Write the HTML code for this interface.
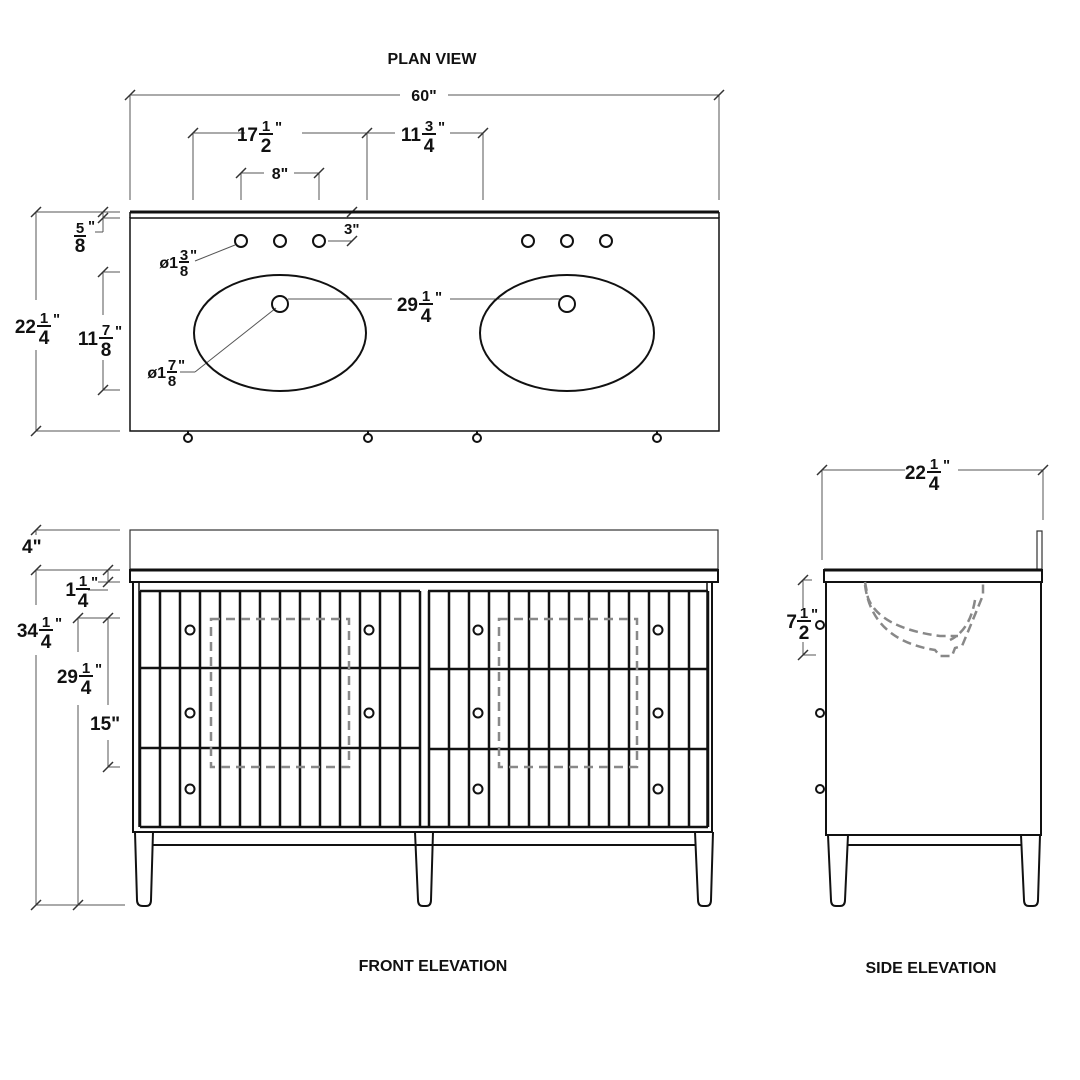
<!DOCTYPE html>
<html><head><meta charset="utf-8"><style>
html,body{margin:0;padding:0;background:#fff}
svg{display:block}
text{font-family:"Liberation Sans",sans-serif;font-weight:bold;fill:#111}
.t{font-size:16px}
.w{font-size:19px}
.f{font-size:15px}
.d{stroke:#555;stroke-width:1;fill:none}
.k{stroke:#111;stroke-width:2;fill:none}
.s{stroke:#111;stroke-width:2.5}
.h{stroke:#888;stroke-width:2.5;fill:none;stroke-dasharray:9,6}
</style></head><body>
<svg width="1080" height="1080" viewBox="0 0 1080 1080" xmlns="http://www.w3.org/2000/svg">
<defs>
<g id="tk"><line x1="-5" y1="5" x2="5" y2="-5" stroke="#333" stroke-width="1.5"/></g>
</defs>

<!-- titles -->
<text class="t" x="432" y="64" text-anchor="middle">PLAN VIEW</text>
<text class="t" x="433" y="971" text-anchor="middle">FRONT ELEVATION</text>
<text class="t" x="931" y="973" text-anchor="middle">SIDE ELEVATION</text>

<!-- ===== PLAN VIEW ===== -->
<g class="d">
<line x1="130" y1="95" x2="400" y2="95"/><line x1="448" y1="95" x2="719" y2="95"/>
<line x1="130" y1="95" x2="130" y2="200"/><line x1="719" y1="95" x2="719" y2="200"/>
<line x1="193" y1="133" x2="245" y2="133"/><line x1="302" y1="133" x2="395" y2="133"/><line x1="450" y1="133" x2="483" y2="133"/>
<line x1="193" y1="133" x2="193" y2="200"/><line x1="367" y1="133" x2="367" y2="200"/><line x1="483" y1="133" x2="483" y2="200"/>
<line x1="241" y1="173" x2="264" y2="173"/><line x1="294" y1="173" x2="319" y2="173"/>
<line x1="241" y1="173" x2="241" y2="200"/><line x1="319" y1="173" x2="319" y2="200"/>
<line x1="36" y1="212" x2="36" y2="300"/><line x1="36" y1="350" x2="36" y2="431"/>
<line x1="36" y1="212" x2="120" y2="212"/><line x1="36" y1="431" x2="120" y2="431"/>
<line x1="103" y1="212" x2="103" y2="232"/><line x1="95" y1="232" x2="103" y2="232"/>
<line x1="103" y1="218" x2="120" y2="218"/>
<line x1="103" y1="272" x2="103" y2="315"/><line x1="103" y1="360" x2="103" y2="390"/>
<line x1="103" y1="272" x2="120" y2="272"/><line x1="103" y1="390" x2="120" y2="390"/>
<line x1="328" y1="241" x2="352" y2="241"/>
<line x1="195" y1="261" x2="235" y2="245"/>
<line x1="180" y1="372" x2="195" y2="372"/><line x1="195" y1="372" x2="276" y2="308"/>
<line x1="288" y1="299" x2="392" y2="299"/><line x1="450" y1="299" x2="562" y2="299"/>
</g>
<use href="#tk" x="130" y="95"/><use href="#tk" x="719" y="95"/>
<use href="#tk" x="193" y="133"/><use href="#tk" x="367" y="133"/><use href="#tk" x="483" y="133"/>
<use href="#tk" x="241" y="173"/><use href="#tk" x="319" y="173"/>
<use href="#tk" x="36" y="212"/><use href="#tk" x="36" y="431"/>
<use href="#tk" x="103" y="212"/><use href="#tk" x="103" y="218"/>
<use href="#tk" x="103" y="272"/><use href="#tk" x="103" y="390"/>
<use href="#tk" x="352" y="241"/><use href="#tk" x="352" y="212"/>

<line x1="130" y1="212" x2="719" y2="212" stroke="#111" stroke-width="3"/>
<rect x="130" y="218" width="589" height="213" fill="none" stroke="#111" stroke-width="1.5"/>
<line x1="130" y1="212" x2="130" y2="218" stroke="#111" stroke-width="1.5"/>
<line x1="719" y1="212" x2="719" y2="218" stroke="#111" stroke-width="1.5"/>
<g class="k">
<ellipse cx="280" cy="333" rx="86" ry="58"/><ellipse cx="567" cy="333" rx="87" ry="58"/>
<circle cx="241" cy="241" r="6"/><circle cx="280" cy="241" r="6"/><circle cx="319" cy="241" r="6"/>
<circle cx="528" cy="241" r="6"/><circle cx="567" cy="241" r="6"/><circle cx="606" cy="241" r="6"/>
<circle cx="280" cy="304" r="8"/><circle cx="567" cy="304" r="8"/>
<circle cx="188" cy="438" r="4"/><circle cx="368" cy="438" r="4"/><circle cx="477" cy="438" r="4"/><circle cx="657" cy="438" r="4"/>
<line x1="188" y1="431" x2="188" y2="434"/><line x1="368" y1="431" x2="368" y2="434"/><line x1="477" y1="431" x2="477" y2="434"/><line x1="657" y1="431" x2="657" y2="434"/>
</g>

<!-- plan labels -->
<text class="t" x="424" y="101" text-anchor="middle">60"</text>
<text class="t" x="280" y="179" text-anchor="middle">8"</text>
<text class="f" x="344" y="234">3"</text>
<g transform="translate(258,141)"><text class="w" x="0" y="0" text-anchor="end">17</text><text class="f" x="8" y="-10" text-anchor="middle">1</text><line x1="1" y1="-7" x2="15" y2="-7" stroke="#111" stroke-width="2"/><text class="w" x="8" y="11" text-anchor="middle">2</text><text class="f" x="17" y="-9">"</text></g>
<g transform="translate(421,141)"><text class="w" x="0" y="0" text-anchor="end">11</text><text class="f" x="8" y="-10" text-anchor="middle">3</text><line x1="1" y1="-7" x2="15" y2="-7" stroke="#111" stroke-width="2"/><text class="w" x="8" y="11" text-anchor="middle">4</text><text class="f" x="17" y="-9">"</text></g>
<g transform="translate(36,333)"><text class="w" x="0" y="0" text-anchor="end">22</text><text class="f" x="8" y="-10" text-anchor="middle">1</text><line x1="1" y1="-7" x2="15" y2="-7" stroke="#111" stroke-width="2"/><text class="w" x="8" y="11" text-anchor="middle">4</text><text class="f" x="17" y="-9">"</text></g>
<g transform="translate(98,345)"><text class="w" x="0" y="0" text-anchor="end">11</text><text class="f" x="8" y="-10" text-anchor="middle">7</text><line x1="1" y1="-7" x2="15" y2="-7" stroke="#111" stroke-width="2"/><text class="w" x="8" y="11" text-anchor="middle">8</text><text class="f" x="17" y="-9">"</text></g>
<g transform="translate(418,311)"><text class="w" x="0" y="0" text-anchor="end">29</text><text class="f" x="8" y="-10" text-anchor="middle">1</text><line x1="1" y1="-7" x2="15" y2="-7" stroke="#111" stroke-width="2"/><text class="w" x="8" y="11" text-anchor="middle">4</text><text class="f" x="17" y="-9">"</text></g>
<g transform="translate(80,233)"><text class="f" x="0" y="0" text-anchor="middle">5</text><line x1="-6" y1="3" x2="6" y2="3" stroke="#111" stroke-width="2"/><text class="w" x="0" y="19" text-anchor="middle">8</text><text class="f" x="8" y="-2">"</text></g>
<g transform="translate(178,268)"><text class="t" x="0" y="0" text-anchor="end">ø1</text><text class="f" x="6" y="-8" text-anchor="middle">3</text><line x1="1" y1="-6" x2="11" y2="-6" stroke="#111" stroke-width="2"/><text class="f" x="6" y="8" text-anchor="middle">8</text><text class="f" x="12" y="-8">"</text></g>
<g transform="translate(166,378)"><text class="t" x="0" y="0" text-anchor="end">ø1</text><text class="f" x="6" y="-8" text-anchor="middle">7</text><line x1="1" y1="-6" x2="11" y2="-6" stroke="#111" stroke-width="2"/><text class="f" x="6" y="8" text-anchor="middle">8</text><text class="f" x="12" y="-8">"</text></g>

<!-- ===== FRONT ELEVATION ===== -->
<g class="d">
<line x1="36" y1="530" x2="120" y2="530"/><line x1="36" y1="570" x2="120" y2="570"/>
<line x1="36" y1="530" x2="36" y2="535"/>
<line x1="36" y1="570" x2="36" y2="605"/><line x1="36" y1="655" x2="36" y2="905"/>
<line x1="36" y1="905" x2="125" y2="905"/>
<line x1="108" y1="570" x2="108" y2="582"/><line x1="98" y1="582" x2="120" y2="582"/><line x1="88" y1="590" x2="108" y2="590"/>
<line x1="78" y1="618" x2="120" y2="618"/>
<line x1="78" y1="618" x2="78" y2="652"/><line x1="78" y1="705" x2="78" y2="905"/>
<line x1="108" y1="618" x2="108" y2="705"/><line x1="108" y1="740" x2="108" y2="767"/>
<line x1="108" y1="767" x2="120" y2="767"/>
</g>
<use href="#tk" x="36" y="530"/><use href="#tk" x="36" y="570"/><use href="#tk" x="36" y="905"/>
<use href="#tk" x="108" y="570"/><use href="#tk" x="108" y="582"/>
<use href="#tk" x="78" y="618"/><use href="#tk" x="78" y="905"/>
<use href="#tk" x="108" y="618"/><use href="#tk" x="108" y="767"/>

<rect x="130" y="530" width="588" height="40" fill="none" stroke="#333" stroke-width="1.2"/>
<rect x="130" y="570" width="588" height="12" fill="none" stroke="#111" stroke-width="2"/>
<line x1="130" y1="570" x2="718" y2="570" stroke="#111" stroke-width="3"/>
<rect x="133" y="582" width="579" height="250" fill="none" stroke="#111" stroke-width="2"/>
<line x1="139" y1="582" x2="139" y2="827" stroke="#111" stroke-width="1.5"/>
<line x1="707" y1="582" x2="707" y2="827" stroke="#111" stroke-width="1.5"/>
<g stroke="#111" stroke-width="2.5">
<line x1="140" y1="591" x2="420" y2="591"/><line x1="428" y1="591" x2="708" y2="591"/>
<line x1="140" y1="668" x2="420" y2="668"/><line x1="428" y1="669" x2="708" y2="669"/>
<line x1="140" y1="748" x2="420" y2="748"/><line x1="428" y1="749" x2="708" y2="749"/>
<line x1="140" y1="827" x2="708" y2="827"/>
</g>
<g class="s">
<line x1="140" y1="591" x2="140" y2="827"/><line x1="160" y1="591" x2="160" y2="827"/><line x1="180" y1="591" x2="180" y2="827"/><line x1="200" y1="591" x2="200" y2="827"/><line x1="220" y1="591" x2="220" y2="827"/><line x1="240" y1="591" x2="240" y2="827"/><line x1="260" y1="591" x2="260" y2="827"/><line x1="280" y1="591" x2="280" y2="827"/><line x1="300" y1="591" x2="300" y2="827"/><line x1="320" y1="591" x2="320" y2="827"/><line x1="340" y1="591" x2="340" y2="827"/><line x1="360" y1="591" x2="360" y2="827"/><line x1="380" y1="591" x2="380" y2="827"/><line x1="400" y1="591" x2="400" y2="827"/><line x1="420" y1="591" x2="420" y2="827"/>
<line x1="429" y1="591" x2="429" y2="827"/><line x1="449" y1="591" x2="449" y2="827"/><line x1="469" y1="591" x2="469" y2="827"/><line x1="489" y1="591" x2="489" y2="827"/><line x1="509" y1="591" x2="509" y2="827"/><line x1="529" y1="591" x2="529" y2="827"/><line x1="549" y1="591" x2="549" y2="827"/><line x1="569" y1="591" x2="569" y2="827"/><line x1="589" y1="591" x2="589" y2="827"/><line x1="609" y1="591" x2="609" y2="827"/><line x1="629" y1="591" x2="629" y2="827"/><line x1="649" y1="591" x2="649" y2="827"/><line x1="669" y1="591" x2="669" y2="827"/><line x1="689" y1="591" x2="689" y2="827"/><line x1="708" y1="591" x2="708" y2="827"/>
</g>
<rect x="211" y="619" width="138" height="148" class="h"/>
<rect x="499" y="619" width="138" height="148" class="h"/>
<g fill="#fff" stroke="#111" stroke-width="2">
<circle cx="190" cy="630" r="4.5"/><circle cx="369" cy="630" r="4.5"/><circle cx="478" cy="630" r="4.5"/><circle cx="658" cy="630" r="4.5"/>
<circle cx="190" cy="713" r="4.5"/><circle cx="369" cy="713" r="4.5"/><circle cx="478" cy="713" r="4.5"/><circle cx="658" cy="713" r="4.5"/>
<circle cx="190" cy="789" r="4.5"/><circle cx="478" cy="789" r="4.5"/><circle cx="658" cy="789" r="4.5"/>
</g>
<g fill="none" stroke="#111" stroke-width="2">
<line x1="153" y1="845" x2="695" y2="845"/>
<path d="M135 832 L137 900 Q137 906 143 906 L146 906 Q151 906 151 900 L153 832"/>
<path d="M415 832 L418 900 Q418 906 423 906 L426 906 Q431 906 431 900 L433 832"/>
<path d="M695 832 L698 900 Q698 906 703 906 L706 906 Q711 906 711 900 L713 832"/>
</g>
<text class="w" x="22" y="553">4"</text>
<g transform="translate(76,596)"><text class="w" x="0" y="0" text-anchor="end">1</text><text class="f" x="7" y="-10" text-anchor="middle">1</text><line x1="0" y1="-7" x2="14" y2="-7" stroke="#111" stroke-width="2"/><text class="w" x="7" y="11" text-anchor="middle">4</text><text class="f" x="15" y="-9">"</text></g>
<g transform="translate(38,637)"><text class="w" x="0" y="0" text-anchor="end">34</text><text class="f" x="8" y="-10" text-anchor="middle">1</text><line x1="1" y1="-7" x2="15" y2="-7" stroke="#111" stroke-width="2"/><text class="w" x="8" y="11" text-anchor="middle">4</text><text class="f" x="17" y="-9">"</text></g>
<g transform="translate(78,683)"><text class="w" x="0" y="0" text-anchor="end">29</text><text class="f" x="8" y="-10" text-anchor="middle">1</text><line x1="1" y1="-7" x2="15" y2="-7" stroke="#111" stroke-width="2"/><text class="w" x="8" y="11" text-anchor="middle">4</text><text class="f" x="17" y="-9">"</text></g>
<text class="w" x="90" y="730">15"</text>

<!-- ===== SIDE ELEVATION ===== -->
<g class="d">
<line x1="822" y1="470" x2="905" y2="470"/><line x1="958" y1="470" x2="1043" y2="470"/>
<line x1="822" y1="470" x2="822" y2="560"/><line x1="1043" y1="470" x2="1043" y2="520"/>
<line x1="803" y1="580" x2="803" y2="608"/><line x1="803" y1="642" x2="803" y2="655"/>
<line x1="803" y1="580" x2="812" y2="580"/><line x1="803" y1="655" x2="816" y2="655"/>
</g>
<use href="#tk" x="822" y="470"/><use href="#tk" x="1043" y="470"/>
<use href="#tk" x="803" y="580"/><use href="#tk" x="803" y="655"/>
<rect x="1037" y="531" width="5" height="39" fill="none" stroke="#333" stroke-width="1.2"/>
<rect x="824" y="570" width="218" height="12" fill="none" stroke="#111" stroke-width="2"/>
<line x1="824" y1="570" x2="1042" y2="570" stroke="#111" stroke-width="3"/>
<rect x="826" y="582" width="215" height="253" fill="none" stroke="#111" stroke-width="2"/>
<g fill="none" stroke="#888" stroke-width="2.5" stroke-dasharray="9,5">
<path d="M865 582 L868 598 Q880 628 940 636 L958 636"/>
<path d="M865 585 Q872 640 935 650 L940 656 L952 656 L955 648 L962 646 Q975 615 983 595 L983 582"/>
<path d="M975 600 Q970 630 950 640"/>
</g>
<g fill="#fff" stroke="#111" stroke-width="2">
<circle cx="820" cy="625" r="4"/><circle cx="820" cy="713" r="4"/><circle cx="820" cy="789" r="4"/>
</g>
<g fill="none" stroke="#111" stroke-width="2">
<line x1="848" y1="845" x2="1022" y2="845"/>
<path d="M828 835 L831 900 Q831 906 836 906 L840 906 Q845 906 845 900 L848 835"/>
<path d="M1021 835 L1024 900 Q1024 906 1029 906 L1033 906 Q1038 906 1038 900 L1040 835"/>
</g>
<g transform="translate(926,479)"><text class="w" x="0" y="0" text-anchor="end">22</text><text class="f" x="8" y="-10" text-anchor="middle">1</text><line x1="1" y1="-7" x2="15" y2="-7" stroke="#111" stroke-width="2"/><text class="w" x="8" y="11" text-anchor="middle">4</text><text class="f" x="17" y="-9">"</text></g>
<g transform="translate(797,628)"><text class="w" x="0" y="0" text-anchor="end">7</text><text class="f" x="7" y="-10" text-anchor="middle">1</text><line x1="0" y1="-7" x2="14" y2="-7" stroke="#111" stroke-width="2"/><text class="w" x="7" y="11" text-anchor="middle">2</text><text class="f" x="14" y="-9">"</text></g>
</svg>
</body></html>
